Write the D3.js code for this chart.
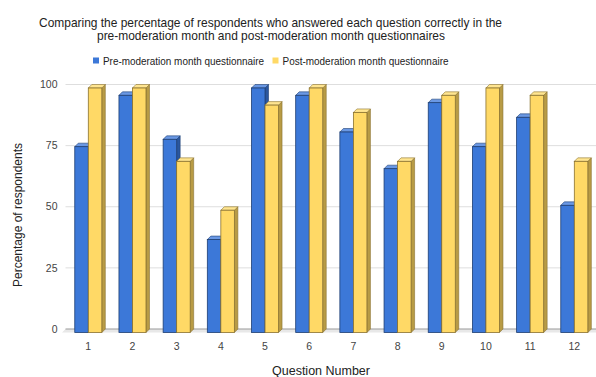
<!DOCTYPE html>
<html>
<head>
<meta charset="utf-8">
<script src="https://cdn.jsdelivr.net/npm/d3@7/dist/d3.min.js"></script>
<style>
  html, body { margin: 0; padding: 0; background: #fff; }
  svg { display: block; font-family: "Liberation Sans", Arial, sans-serif; }
</style>
</head>
<body>
<svg id="chart" width="596" height="377"></svg>
<script>
// Questions 1–12 and the share of respondents answering each one correctly
const questions = ["1", "2", "3", "4", "5", "6", "7", "8", "9", "10", "11", "12"];
const preModeration = [76, 97, 79, 38, 100, 97, 82, 67, 94, 76, 88, 52];
const postModeration = [100, 100, 70, 50, 93, 100, 90, 70, 97, 100, 97, 70];
const seriesNames = ["Pre-moderation month questionnaire", "Post-moderation month questionnaire"];
const yTicks = [0, 25, 50, 75, 100];

const titleLines = [
  "Comparing the percentage of respondents who answered each question correctly in the",
  "pre-moderation month and post-moderation month questionnaires"
];

// face colours: front, side, top, outline
const palette = [
  { front: "#3c78d8", side: "#2b579f", top: "#6a98e4", stroke: "#1f3f73" },
  { front: "#ffd966", side: "#b89b45", top: "#ffe590", stroke: "#8a7230" }
];

const svg = d3.select("#chart");

// 3D depth offset of the bars (back plane sits up and to the right)
const dx = 3.5, dy = 3.5;

// y scale on the back plane (gridlines)
const y = d3.scaleLinear().domain([0, 100]).range([329, 84.5]);
// front plane is shifted down by dy
const yFront = v => y(v) + dy;

const x0 = d3.scaleBand().domain(questions).range([66.2, 596.4]).paddingInner(0).paddingOuter(0);
const groupW = x0.bandwidth() * 0.612;
const x1 = d3.scaleBand().domain([0, 1]).range([0, groupW]).padding(0);

// floor
const floorLeft = 62, floorRight = 600;
svg.append("path")
  .attr("d", `M${floorLeft},${yFront(0)}L${floorLeft + dx},${y(0)}L${floorRight},${y(0)}L${floorRight},${yFront(0)}Z`)
  .attr("fill", "#e8e8e8");

// gridlines
svg.append("g").selectAll("line").data(yTicks.filter(t => t > 0)).join("line")
  .attr("x1", floorLeft + dx).attr("x2", floorRight)
  .attr("y1", d => y(d)).attr("y2", d => y(d))
  .attr("stroke", "#dedede").attr("stroke-width", 1);

// baseline
svg.append("line")
  .attr("x1", floorLeft + dx).attr("x2", floorRight)
  .attr("y1", y(0)).attr("y2", y(0))
  .attr("stroke", "#999").attr("stroke-width", 1);

// y tick labels
svg.append("g").selectAll("text").data(yTicks).join("text")
  .attr("x", 57.5).attr("y", d => y(d))
  .attr("dy", "0.35em")
  .attr("text-anchor", "end")
  .attr("font-size", 10.5).attr("fill", "#444")
  .text(d => d);

// bars
const bars = [];
questions.forEach((q, i) => {
  [preModeration[i], postModeration[i]].forEach((v, s) => {
    bars.push({ q, s, v });
  });
});

const barG = svg.append("g");
bars.forEach(b => {
  const c = palette[b.s];
  const left = x0(b.q) + (x0.bandwidth() - groupW) / 2 + x1(b.s);
  const w = x1.bandwidth();
  const top = yFront(b.v), bottom = yFront(0);
  const g = barG.append("g");
  // side face
  g.append("path")
    .attr("d", `M${left + w},${top}L${left + w + dx},${top - dy}L${left + w + dx},${bottom - dy}L${left + w},${bottom}Z`)
    .attr("fill", c.side).attr("stroke", c.stroke).attr("stroke-width", 0.6);
  // top face
  g.append("path")
    .attr("d", `M${left},${top}L${left + dx},${top - dy}L${left + w + dx},${top - dy}L${left + w},${top}Z`)
    .attr("fill", c.top).attr("stroke", c.stroke).attr("stroke-width", 0.6);
  // front face
  g.append("rect")
    .attr("x", left).attr("y", top).attr("width", w).attr("height", bottom - top)
    .attr("fill", c.front).attr("stroke", c.stroke).attr("stroke-width", 0.8);
});

// x tick labels
svg.append("g").selectAll("text").data(questions).join("text")
  .attr("x", d => x0(d) + x0.bandwidth() / 2)
  .attr("y", 349.5)
  .attr("text-anchor", "middle")
  .attr("font-size", 10.5).attr("fill", "#444")
  .text(d => d);

// axis titles
svg.append("text")
  .attr("transform", "translate(22,215) rotate(-90)")
  .attr("text-anchor", "middle")
  .attr("font-size", 12).attr("fill", "#222")
  .text("Percentage of respondents");

svg.append("text")
  .attr("x", 321).attr("y", 374.5)
  .attr("text-anchor", "middle")
  .attr("font-size", 12.5).attr("fill", "#222")
  .text("Question Number");

// title, two condensed lines
const titleStart = [39, 97], titleWidth = [463, 348];
svg.append("g").selectAll("text").data(titleLines).join("text")
  .attr("x", (d, i) => titleStart[i]).attr("y", (d, i) => 26.5 + i * 13.5)
  .attr("font-size", 13).attr("fill", "#222")
  .attr("textLength", (d, i) => titleWidth[i])
  .attr("lengthAdjust", "spacingAndGlyphs")
  .text(d => d);

// legend
const legendX = [93, 272.5], legendW = [161, 166];
const legend = svg.append("g");
seriesNames.forEach((name, s) => {
  legend.append("rect")
    .attr("x", legendX[s]).attr("y", 57.5).attr("width", 6).attr("height", 6)
    .attr("fill", palette[s].front);
  legend.append("text")
    .attr("x", legendX[s] + 10).attr("y", 64.5)
    .attr("font-size", 11.5).attr("fill", "#222")
    .attr("textLength", legendW[s])
    .attr("lengthAdjust", "spacingAndGlyphs")
    .text(name);
});
</script>
</body>
</html>
